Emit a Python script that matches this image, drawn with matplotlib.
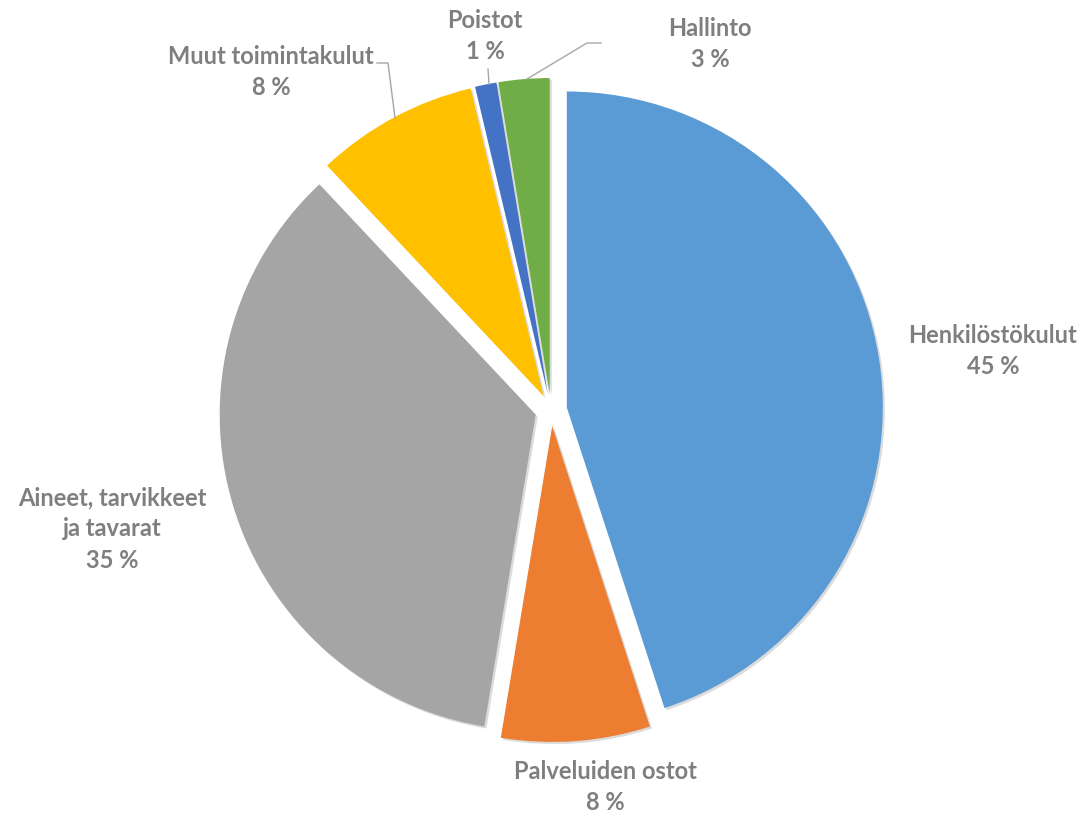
import matplotlib
matplotlib.use("Agg")
import matplotlib.pyplot as plt
import matplotlib.patheffects as pe

# cost breakdown, clockwise from 12 o'clock (percent)
categories = ["Henkilöstökulut", "Palveluiden ostot", "Aineet, tarvikkeet\nja tavarat",
              "Muut toimintakulut", "Poistot", "Hallinto"]
shares = [45.0, 7.6, 35.4, 8.3, 1.1, 2.6]
colors = ["#5B9BD5", "#ED7D31", "#A5A5A5", "#FFC000", "#4472C4", "#70AD47"]

# label centres in pixel coords (y measured from top)
label_pos = [(993, 351), (605, 787), (112, 529), (271, 72), (485, 36), (710, 44)]
# leader lines (pixel coords, y from top); None = no line
leaders = [None, None, None,
           [(377, 63), (388, 63), (395, 118)],
           [(488, 69), (489, 84)],
           [(601, 43), (587, 43), (527, 79)]]

W, H = 1086, 814
fig = plt.figure(figsize=(W / 100, H / 100), dpi=100)
ax = fig.add_axes([0, 0, 1, 1])

cx, cy, r = 551, H - 410, 316
wedges, _ = ax.pie(shares, colors=colors, startangle=90, counterclock=False,
                   center=(cx, cy), radius=r, explode=[16] * len(shares),
                   wedgeprops=dict(linewidth=0), frame=True)
for w in wedges:
    w.set_path_effects([pe.SimplePatchShadow(offset=(1.5, -1.5), shadow_rgbFace="#999999", alpha=0.35),
                        pe.Normal()])
ax.set_xlim(0, W)
ax.set_ylim(0, H)
ax.set_aspect("equal")
ax.axis("off")

for cat, val, (lx, ly) in zip(categories, shares, label_pos):
    ax.text(lx, H - ly, f"{cat}\n{round(val)} %", ha="center", va="center",
            fontsize=17, fontweight="bold", color="#7F7F7F",
            family=["Lato", "DejaVu Sans"], linespacing=1.45)

for pts in leaders:
    if pts is None:
        continue
    xs = [p[0] for p in pts]
    ys = [H - p[1] for p in pts]
    ax.plot(xs, ys, color="#A6A6A6", linewidth=1)

fig.savefig("out.png", dpi=100)
